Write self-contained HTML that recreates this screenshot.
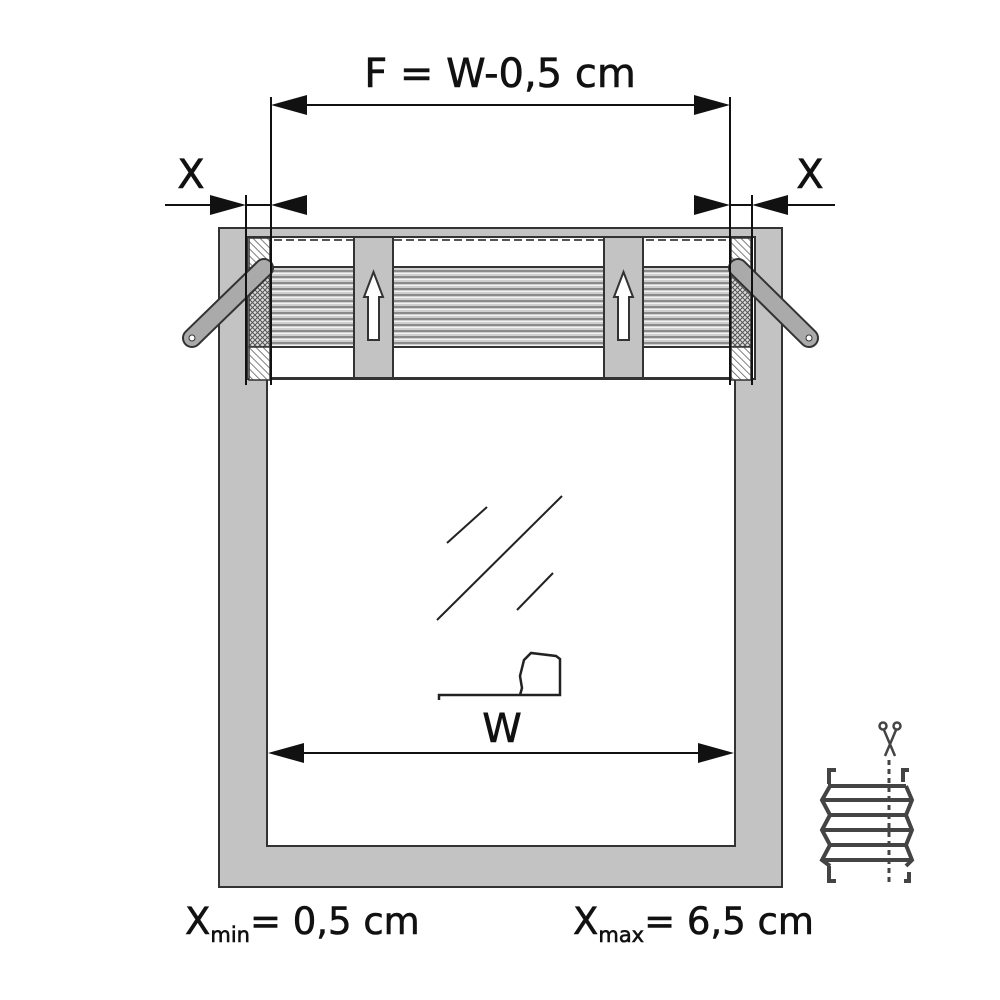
<!DOCTYPE html>
<html><head><meta charset="utf-8"><style>
html,body{margin:0;padding:0;background:#fff;}
svg{display:block;}
text{font-family:"DejaVu Sans","Liberation Sans",sans-serif;fill:#111;stroke:#111;stroke-width:0.6;}
</style></head><body>
<svg width="1000" height="1000" viewBox="0 0 1000 1000" xmlns="http://www.w3.org/2000/svg">
<defs>
<pattern id="hatch" width="5" height="5" patternUnits="userSpaceOnUse" patternTransform="rotate(-45)">
<rect width="5" height="5" fill="#fff"/><line x1="0" y1="0" x2="0" y2="5" stroke="#555" stroke-width="1.5"/></pattern>
<pattern id="cross" width="5" height="5" patternUnits="userSpaceOnUse">
<rect width="5" height="5" fill="#ddd"/><path d="M0 0L5 5M5 0L0 5" stroke="#555" stroke-width="1"/></pattern>
<pattern id="stripes" width="10" height="6" patternUnits="userSpaceOnUse">
<rect width="10" height="6" fill="#cfcfcf"/><rect y="0" width="10" height="2" fill="#8a8a8a"/><rect y="3" width="10" height="1" fill="#f2f2f2"/></pattern>
</defs>
<path d="M219 228H782V887H219Z M267 240V846H735V240Z" fill="#c3c3c3" fill-rule="evenodd" stroke="#333" stroke-width="2"/>
<rect x="247" y="237" width="508" height="142" fill="#fff" stroke="#333" stroke-width="2"/>
<line x1="250" y1="240" x2="752" y2="240" stroke="#555" stroke-width="2" stroke-dasharray="8 4"/>
<rect x="270" y="267" width="461" height="80" fill="url(#stripes)" stroke="#333" stroke-width="2"/>
<line x1="270" y1="378" x2="731" y2="378" stroke="#333" stroke-width="2"/>
<rect x="249" y="238" width="21" height="30" fill="url(#hatch)" stroke="#333" stroke-width="1.5"/>
<rect x="249" y="268" width="21" height="79" fill="url(#cross)" stroke="#333" stroke-width="1.5"/>
<rect x="249" y="347" width="21" height="33" fill="url(#hatch)" stroke="#333" stroke-width="1.5"/>
<rect x="731" y="238" width="20" height="30" fill="url(#hatch)" stroke="#333" stroke-width="1.5"/>
<rect x="731" y="268" width="20" height="79" fill="url(#cross)" stroke="#333" stroke-width="1.5"/>
<rect x="731" y="347" width="20" height="33" fill="url(#hatch)" stroke="#333" stroke-width="1.5"/>
<line x1="264" y1="268" x2="192" y2="338" stroke="#333" stroke-width="20" stroke-linecap="round"/>
<line x1="264" y1="268" x2="192" y2="338" stroke="#aaa" stroke-width="16" stroke-linecap="round"/>
<circle cx="192" cy="338" r="3" fill="#fff" stroke="#333"/>
<line x1="738" y1="268" x2="809" y2="338" stroke="#333" stroke-width="20" stroke-linecap="round"/>
<line x1="738" y1="268" x2="809" y2="338" stroke="#aaa" stroke-width="16" stroke-linecap="round"/>
<circle cx="809" cy="338" r="3" fill="#fff" stroke="#333"/>
<rect x="354" y="237" width="39" height="141" fill="#c3c3c3" stroke="#333" stroke-width="2"/>
<path d="M368 340V297H364L373.5 272L383 297H379V340Z" fill="#fff" stroke="#333" stroke-width="2"/>
<rect x="604" y="237" width="39" height="141" fill="#c3c3c3" stroke="#333" stroke-width="2"/>
<path d="M618 340V297H614L623.5 272L633 297H629V340Z" fill="#fff" stroke="#333" stroke-width="2"/>
<g stroke="#111" stroke-width="2">
<line x1="271" y1="97" x2="271" y2="385"/>
<line x1="730" y1="97" x2="730" y2="385"/>
<line x1="246" y1="195" x2="246" y2="385"/>
<line x1="752" y1="195" x2="752" y2="385"/>
<line x1="300" y1="105" x2="700" y2="105"/>
<line x1="165" y1="205" x2="215" y2="205"/>
<line x1="246" y1="205" x2="271" y2="205"/>
<line x1="730" y1="205" x2="752" y2="205"/>
<line x1="785" y1="205" x2="835" y2="205"/>
<line x1="300" y1="753" x2="705" y2="753"/>
</g>
<g fill="#111">
<path d="M271 105L307 95V115Z"/><path d="M730 105L694 95V115Z"/>
<path d="M246 205L210 195V215Z"/><path d="M271 205L307 195V215Z"/>
<path d="M730 205L694 195V215Z"/><path d="M752 205L788 195V215Z"/>
<path d="M268 753L304 743V763Z"/><path d="M734 753L698 743V763Z"/>
</g>
<g stroke="#222" stroke-width="2">
<line x1="447" y1="543" x2="487" y2="507"/>
<line x1="437" y1="620" x2="562" y2="496"/>
<line x1="517" y1="610" x2="553" y2="573"/>
</g>
<path d="M439 700V695H560V659L556 656L531 653L524 660L520 676L522 688L520 695" fill="none" stroke="#222" stroke-width="2.5"/>
<text x="500" y="87" font-size="40" text-anchor="middle">F = W-0,5 cm</text>
<text x="191" y="188" font-size="40" text-anchor="middle">X</text>
<text x="810" y="188" font-size="40" text-anchor="middle">X</text>
<text x="502" y="742" font-size="40" text-anchor="middle">W</text>
<text x="185" y="934" font-size="37">X<tspan font-size="21" dy="8">min</tspan><tspan dy="-8">= 0,5 cm</tspan></text>
<text x="573" y="934" font-size="37">X<tspan font-size="21" dy="8">max</tspan><tspan dy="-8">= 6,5 cm</tspan></text>
<g stroke="#444" stroke-width="4" fill="none">
<path d="M836 770H829V784M909 770H903V782M836 881H829V866M904 881H909V872"/>
<path d="M830 786L822 800L830 815L822 830L830 845L822 860L830 866"/>
<path d="M906 786L912 800L906 815L912 830L906 845L912 860L906 866"/>
<line x1="828" y1="786" x2="906" y2="786"/>
<line x1="822" y1="800" x2="912" y2="800"/>
<line x1="830" y1="815" x2="906" y2="815"/>
<line x1="822" y1="830" x2="912" y2="830"/>
<line x1="830" y1="845" x2="906" y2="845"/>
<line x1="822" y1="860" x2="912" y2="860"/>
<line x1="889" y1="760" x2="889" y2="885" stroke-dasharray="5 4" stroke-width="3"/>
</g>
<g stroke="#444" stroke-width="2.5" fill="none">
<circle cx="883" cy="726" r="3.5"/><circle cx="897" cy="726" r="3.5"/>
<path d="M884 730L895 756M896 730L885 756"/>
</g>
</svg>
</body></html>
